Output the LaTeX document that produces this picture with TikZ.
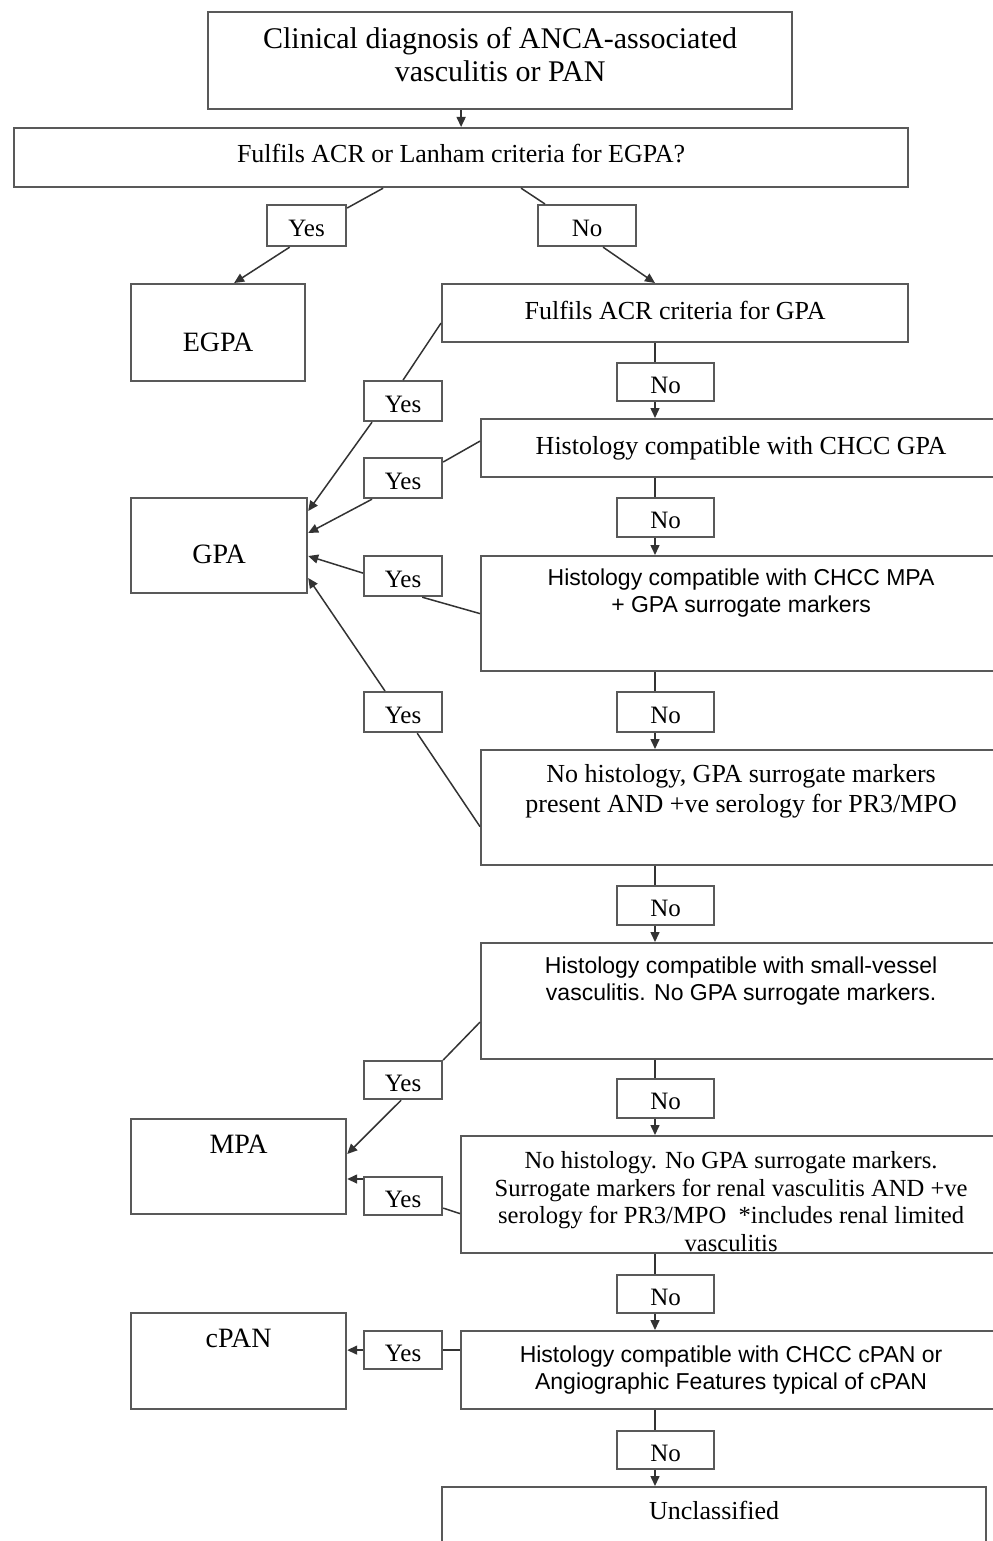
\documentclass[tikz,border=0pt]{standalone}
\usepackage{fontspec}
\setmainfont{Liberation Serif}
\setsansfont{Liberation Sans}
\usetikzlibrary{positioning,calc,arrows.meta}

\tikzset{
  box/.style={draw=black!65, line width=1.1pt, anchor=north west, inner sep=0pt, align=center,
    font=\fontsize{13}{16}\selectfont},
  answer/.style={box, minimum width=39pt, minimum height=20pt, text height=11pt, text depth=0pt,
    font=\fontsize{12.5}{14}\selectfont},
  toptext/.style={anchor=north, inner sep=0pt, align=center, yshift=#1},
  serif/.style={font=\fontsize{13}{15}\selectfont},
  sans/.style={font=\sffamily\fontsize{11.5}{13.8}\selectfont},
  link/.style={draw=black!80, line width=0.75pt},
  arr/.style={link, -{Triangle[length=5pt,width=4.5pt]}},
}

\begin{document}
\begin{tikzpicture}[x=0.5pt,y=-0.5pt]
\useasboundingbox[fill=white] (0,0) rectangle (992,1541);
\coordinate (spine) at (655,0);

% question column
\node[box, minimum width=292pt, minimum height=48.5pt,
  label={[toptext=-8pt, font=\fontsize{15}{16.5}\selectfont]north:{Clinical diagnosis of ANCA-associated\\vasculitis or PAN}}] (diag) at (207,11) {};
\node[box, minimum width=447pt, minimum height=29.5pt, text depth=4pt] (egpaq) at (13,127) {Fulfils ACR or Lanham criteria for EGPA?};
\node[box, minimum width=233pt, minimum height=29pt] (gpaq) at (441,283) {Fulfils ACR criteria for GPA\rule[-3pt]{0pt}{0pt}};
\node[box, minimum width=260pt, minimum height=29pt] (histgpa) at (480,418) {Histology compatible with CHCC GPA};
\node[box, minimum width=260pt, minimum height=57.5pt,
  label={[toptext=-6.5pt, sans]north:{Histology compatible with CHCC MPA\\+ GPA surrogate markers}}] (histmpa) at (480,555) {};
\node[box, minimum width=260pt, minimum height=57.5pt,
  label={[toptext=-7.5pt, serif]north:{No histology, GPA surrogate markers\\present AND +ve serology for PR3/MPO}}] (nohist) at (480,749) {};
\node[box, minimum width=260pt, minimum height=58pt,
  label={[toptext=-7pt, sans]north:{Histology compatible with small-vessel\\vasculitis. No GPA surrogate markers.}}] (smallv) at (480,942) {};
\node[box, minimum width=270pt, minimum height=58.5pt,
  label={[toptext=-8pt, font=\fontsize{12.3}{13.8}\selectfont]north:{No histology. No GPA surrogate markers.\\Surrogate markers for renal vasculitis AND +ve\\serology for PR3/MPO\ \ *includes renal limited\\vasculitis}}] (renal) at (460,1135) {};
\node[box, minimum width=270pt, minimum height=39pt, sans] (cpanq) at (460,1330)
  {Histology compatible with CHCC cPAN or\\Angiographic Features typical of cPAN};
\node[box, minimum width=272pt, minimum height=29pt,
  label={[toptext=-7.5pt, serif]north:{Unclassified}}] (uncl) at (441,1486) {};

% outcomes
\node[box, minimum width=87pt, minimum height=48.5pt, text height=19pt, text depth=0pt,
  font=\fontsize{14}{16}\selectfont] (egpa) at (130,283) {EGPA};
\node[box, minimum width=88pt, minimum height=47.5pt, text height=17.5pt, text depth=0pt,
  font=\fontsize{14}{16}\selectfont] (gpa) at (130,497) {GPA};
\node[box, minimum width=107.5pt, minimum height=47.5pt,
  label={[toptext=-8.5pt, font=\fontsize{14}{16}\selectfont]north:{MPA}}] (mpa) at (130,1118) {};
\node[box, minimum width=107.5pt, minimum height=48pt,
  label={[toptext=-8.5pt, font=\fontsize{14}{16}\selectfont]north:{cPAN}}] (cpan) at (130,1312) {};

% answers
\node[answer, minimum width=39.5pt, minimum height=20.5pt] (yesE) at (266,204) {Yes};
\node[answer, minimum width=49pt, minimum height=20.5pt] (noE) at (537,204) {No};
\node[answer] (yes1) at (363,380) {Yes};
\node[answer] (yes2) at (363,457) {Yes};
\node[answer] (yes3) at (363,555) {Yes};
\node[answer] (yes4) at (363,691) {Yes};
\node[answer, minimum height=19pt] (yes5) at (363,1060) {Yes};
\node[answer, minimum height=19pt] (yes6) at (363,1176) {Yes};
\node[answer, minimum height=19pt] (yes7) at (363,1330) {Yes};
\node[answer, minimum width=48.5pt, minimum height=19pt] (no1) at (616,362) {No};
\node[answer, minimum width=48.5pt, minimum height=19.5pt] (no2) at (616,497) {No};
\node[answer, minimum width=48.5pt, minimum height=20pt] (no3) at (616,691) {No};
\node[answer, minimum width=48.5pt, minimum height=19.5pt] (no4) at (616,885) {No};
\node[answer, minimum width=48.5pt, minimum height=19.5pt] (no5) at (616,1078) {No};
\node[answer, minimum width=48.5pt, minimum height=19pt] (no6) at (616,1274) {No};
\node[answer, minimum width=48.5pt, minimum height=19pt] (no7) at (616,1430) {No};

% first split
\draw[arr] (diag.south -| egpaq.north) -- (egpaq.north);
\draw[link] ($(egpaq.south)+(-78,0)$) -- ($(yesE.north east)+(0,4)$);
\draw[arr] ($(yesE.south)+(-17,0)$) -- ($(egpa.north)+(16,0)$);
\draw[link] ($(egpaq.south)+(60,0)$) -- ($(noE.north west)+(8,0)$);
\draw[arr] ($(noE.south)+(16,0)$) -- (gpaq.north -| spine);

% no chain
\draw[link] (gpaq.south -| spine) -- (no1.north -| spine);
\draw[arr] (no1.south -| spine) -- (histgpa.north -| spine);
\draw[link] (histgpa.south -| spine) -- (no2.north -| spine);
\draw[arr] (no2.south -| spine) -- (histmpa.north -| spine);
\draw[link] (histmpa.south -| spine) -- (no3.north -| spine);
\draw[arr] (no3.south -| spine) -- (nohist.north -| spine);
\draw[link] (nohist.south -| spine) -- (no4.north -| spine);
\draw[arr] (no4.south -| spine) -- (smallv.north -| spine);
\draw[link] (smallv.south -| spine) -- (no5.north -| spine);
\draw[arr] (no5.south -| spine) -- (renal.north -| spine);
\draw[link] (renal.south -| spine) -- (no6.north -| spine);
\draw[arr] (no6.south -| spine) -- (cpanq.north -| spine);
\draw[link] (cpanq.south -| spine) -- (no7.north -| spine);
\draw[arr] (no7.south -| spine) -- (uncl.north -| spine);

% yes to GPA
\draw[link] ($(gpaq.west)+(0,10)$) -- (yes1.north);
\draw[arr] ($(yes1.south west)+(9,0)$) -- ($(gpa.north east)+(0,14)$);
\draw[link] ($(histgpa.west)+(0,-7)$) -- ($(yes2.north east)+(0,5)$);
\draw[arr] ($(yes2.south west)+(9,0)$) -- ($(gpa.north east)+(0,36)$);
\draw[link] (histmpa.west) -- ($(yes3.south east)+(-21,0)$);
\draw[arr] ($(yes3.west)+(0,-3)$) -- ($(gpa.north east)+(0,59)$);
\draw[link] ($(nohist.west)+(0,19)$) -- ($(yes4.south east)+(-26,0)$);
\draw[arr] ($(yes4.north west)+(22,0)$) -- ($(gpa.north east)+(0,81)$);

% yes to MPA and cPAN
\draw[link] ($(smallv.west)+(0,21)$) -- (yes5.north east);
\draw[arr] ($(yes5.south)+(-2,0)$) -- ($(mpa.north east)+(0,36)$);
\draw[link] ($(renal.west)+(0,19)$) -- ($(yes6.east)+(0,12)$);
\draw[arr] ($(yes6.north west)+(0,3)$) -- ($(mpa.north east)+(0,61)$);
\draw[link] (cpanq.west |- yes7.east) -- (yes7.east);
\draw[arr] (yes7.west) -- (cpan.east |- yes7.west);
\end{tikzpicture}
\end{document}
